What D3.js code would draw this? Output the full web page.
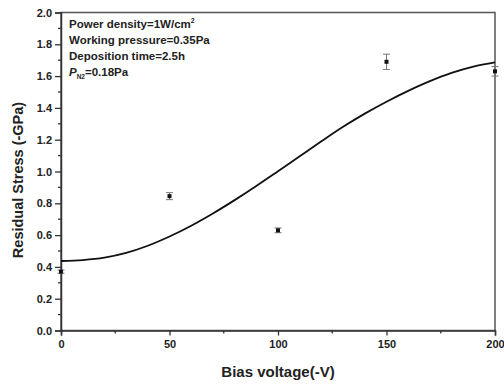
<!DOCTYPE html>
<html><head><meta charset="utf-8">
<script src="https://cdn.jsdelivr.net/npm/d3@7"></script>
<style>body{margin:0;background:#fff}svg{display:block}text{font-family:"Liberation Sans",Arial,sans-serif;font-weight:bold;fill:#222}</style>
</head><body><svg id="c" width="504" height="384"></svg>
<script>
// Measured data
const biasV = [0, 50, 100, 150, 200];
const stress = [0.37, 0.845, 0.63, 1.69, 1.63];
const stressErr = [0.01, 0.022, 0.015, 0.048, 0.03];
// Fitted curve
const fitX = [0,10,20,30,40,50,60,70,80,90,100,110,120,130,140,150,160,170,180,190,200];
const fitY = [0.437,0.443,0.458,0.488,0.533,0.591,0.659,0.736,0.820,0.909,1.002,1.096,1.190,1.281,1.364,1.439,1.507,1.568,1.620,1.660,1.686];
const xTicks = [0,50,100,150,200];
const yTicks = [0.0,0.2,0.4,0.6,0.8,1.0,1.2,1.4,1.6,1.8,2.0];
const notes = ["Power density=1W/cm", "Working pressure=0.35Pa", "Deposition time=2.5h"];

const svg = d3.select("#c");
const L=61, R=495, T=12.5, B=330.5;
const x = d3.scaleLinear().domain([0,200]).range([L,R]);
const y = d3.scaleLinear().domain([0,2]).range([B,T]);

// frame
svg.append("rect").attr("x",L).attr("y",T).attr("width",R-L).attr("height",B-T)
  .attr("fill","none").attr("stroke","#555").attr("stroke-width",1.5);

// y axis
const ya = svg.append("g").attr("transform",`translate(${L},0)`)
  .call(d3.axisLeft(y).tickValues(yTicks).tickFormat(d3.format(".1f")).tickSize(6).tickPadding(3));
ya.selectAll("path").attr("stroke","#333").attr("stroke-width",1.5);
ya.selectAll("line").attr("stroke","#333").attr("stroke-width",1.3);
ya.selectAll("text").attr("font-size",11).attr("fill","#222").attr("font-family","Liberation Sans, Arial").attr("font-weight","bold");
const yMinor = d3.range(0.1,2,0.2);
svg.append("g").selectAll("line").data(yMinor).join("line")
  .attr("x1",L-3).attr("x2",L).attr("y1",d=>y(d)).attr("y2",d=>y(d)).attr("stroke","#333").attr("stroke-width",1.3);

// x axis
const xa = svg.append("g").attr("transform",`translate(0,${B})`)
  .call(d3.axisBottom(x).tickValues(xTicks).tickSize(5).tickPadding(5));
xa.selectAll("path").attr("stroke","#333").attr("stroke-width",1.5);
xa.selectAll("line").attr("stroke","#333").attr("stroke-width",1.3);
xa.selectAll("text").attr("font-size",11).attr("fill","#222").attr("font-family","Liberation Sans, Arial").attr("font-weight","bold");
const xMinor = [25,75,125,175];
svg.append("g").selectAll("line").data(xMinor).join("line")
  .attr("x1",d=>x(d)).attr("x2",d=>x(d)).attr("y1",B).attr("y2",B+3).attr("stroke","#333").attr("stroke-width",1.3);

// titles
svg.append("text").attr("x",278).attr("y",377).attr("text-anchor","middle").attr("font-size",15).text("Bias voltage(-V)");
svg.append("text").attr("transform","translate(23,180) rotate(-90)").attr("text-anchor","middle").attr("font-size",14.5).text("Residual Stress (-GPa)");

// fit curve
const line = d3.line().x((d,i)=>x(fitX[i])).y(d=>y(d)).curve(d3.curveCatmullRom);
svg.append("path").attr("d",line(fitY)).attr("fill","none").attr("stroke","#111").attr("stroke-width",1.8);

// error bars
const eb = svg.append("g").attr("stroke","#777").attr("stroke-width",1);
biasV.forEach((v,i)=>{
  const cx=x(v), y1=y(stress[i]-stressErr[i]), y2=y(stress[i]+stressErr[i]);
  eb.append("line").attr("x1",cx).attr("x2",cx).attr("y1",y1).attr("y2",y2);
  eb.append("line").attr("x1",cx-3.5).attr("x2",cx+3.5).attr("y1",y1).attr("y2",y1);
  eb.append("line").attr("x1",cx-3.5).attr("x2",cx+3.5).attr("y1",y2).attr("y2",y2);
});
svg.append("g").selectAll("rect").data(stress).join("rect")
  .attr("x",(d,i)=>x(biasV[i])-2).attr("y",d=>y(d)-2).attr("width",4).attr("height",4).attr("fill","#111");

// notes
const ng = svg.append("g").attr("font-size",11.5);
notes.forEach((t,i)=>{
  const tx = ng.append("text").attr("x",69).attr("y",28+i*16).text(t);
  if(i===0) tx.append("tspan").attr("font-size",7).attr("dy",-5).text("2");
});
const p = ng.append("text").attr("x",69).attr("y",76);
p.append("tspan").attr("font-style","italic").text("P");
p.append("tspan").attr("font-size",6.5).attr("dy",3).text("N2");
p.append("tspan").attr("dy",-3).text("=0.18Pa");
</script></body></html>
